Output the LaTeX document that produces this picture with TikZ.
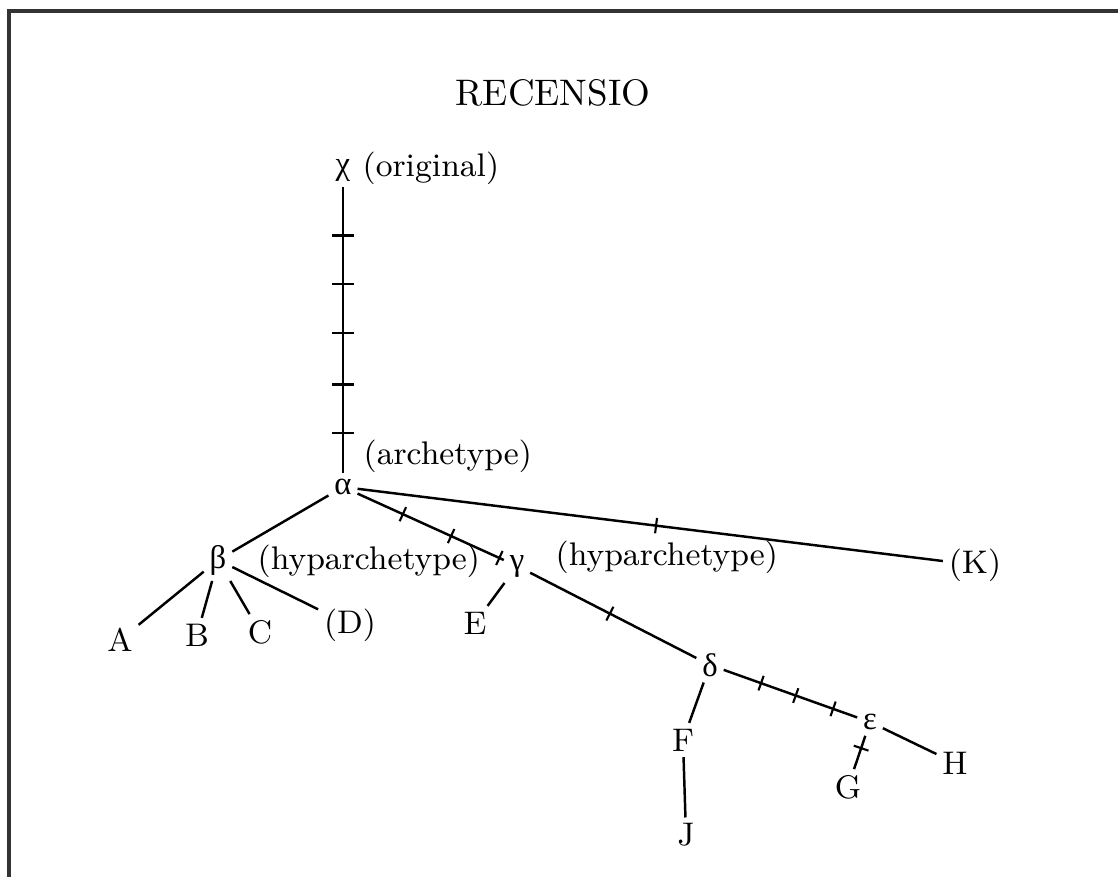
\documentclass[tikz,border=0pt]{standalone}
\usepackage{fontspec}
\usetikzlibrary{decorations.markings}
\newfontfamily\grk{Liberation Serif}

\tikzset{
  ms/.style={inner sep=1.5pt, font=\fontsize{9.3}{11}\selectfont},
  note/.style={inner sep=0pt, font=\fontsize{9.3}{11}\selectfont},
  edge/.style={line width=0.7pt},
  tick at/.style={postaction={decorate,decoration={markings,
    mark=at position #1 with {\draw[line width=0.6pt] (0,-2.2pt) -- (0,2.2pt);}}}},
  long tick at/.style={postaction={decorate,decoration={markings,
    mark=at position #1 with {\draw[line width=0.7pt] (0,-3.1pt) -- (0,3.1pt);}}}},
}

\begin{document}
\begin{tikzpicture}[x=0.01cm, y=-0.01cm]
\useasboundingbox (0,0) rectangle (1118,877);
\fill[white] (0,0) rectangle (1118,877);
\draw[line width=1.1pt, black!80] (9,877) -- (9,11) -- (1118,11);

\node[note, font=\fontsize{10.5}{12}\selectfont] (title) at (553,93) {RECENSIO};

% manuscripts
\node[ms] (chi) at (343,170) {\grk χ};
\node[ms] (alpha) at (343,487) {\grk α};
\node[ms] (beta) at (218,560) {\grk β};
\node[ms] (gamma) at (517,566) {\grk γ};
\node[ms] (delta) at (710,665) {\grk δ};
\node[ms] (eps) at (870,722) {\grk ε};
\node[ms] (A) at (120,640) {A};
\node[ms] (B) at (197,635) {B};
\node[ms] (C) at (260,632) {C};
\node[ms] (D) at (350,625) {(D)};
\node[ms] (E) at (475,623) {E};
\node[ms] (F) at (683,740) {F};
\node[ms] (J) at (686,835) {J};
\node[ms] (G) at (848,787) {G};
\node[ms] (H) at (955,763) {H};
\node[ms] (K) at (975,565) {(K)};

% labels
\node[note, anchor=west] (orig) at (362,168) {(original)};
\node[note, anchor=west] (arch) at (363,456) {(archetype)};
\node[note, anchor=west] (hypb) at (257,561) {(hyparchetype)};
\node[note, anchor=west] (hypg) at (555,557) {(hyparchetype)};

% stemma
\draw[edge, long tick at=0.17, long tick at=0.34, long tick at=0.51,
  long tick at=0.69, long tick at=0.86] (chi) -- (alpha);
\draw[edge, tick at=0.51] (alpha) -- (K);
\draw[edge, tick at=0.31, tick at=0.64, tick at=0.97] (alpha) -- (gamma);
\draw[edge] (alpha) -- (beta);
\draw[edge] (beta) -- (A);
\draw[edge] (beta) -- (B);
\draw[edge] (beta) -- (C);
\draw[edge] (beta) -- (D);
\draw[edge] (gamma) -- (E);
\draw[edge, tick at=0.48] (gamma) -- (delta);
\draw[edge] (delta) -- (F);
\draw[edge] (F) -- (J);
\draw[edge, tick at=0.28, tick at=0.54, tick at=0.82] (delta) -- (eps);
\draw[edge, tick at=0.37] (eps) -- (G);
\draw[edge] (eps) -- (H);
\end{tikzpicture}
\end{document}
